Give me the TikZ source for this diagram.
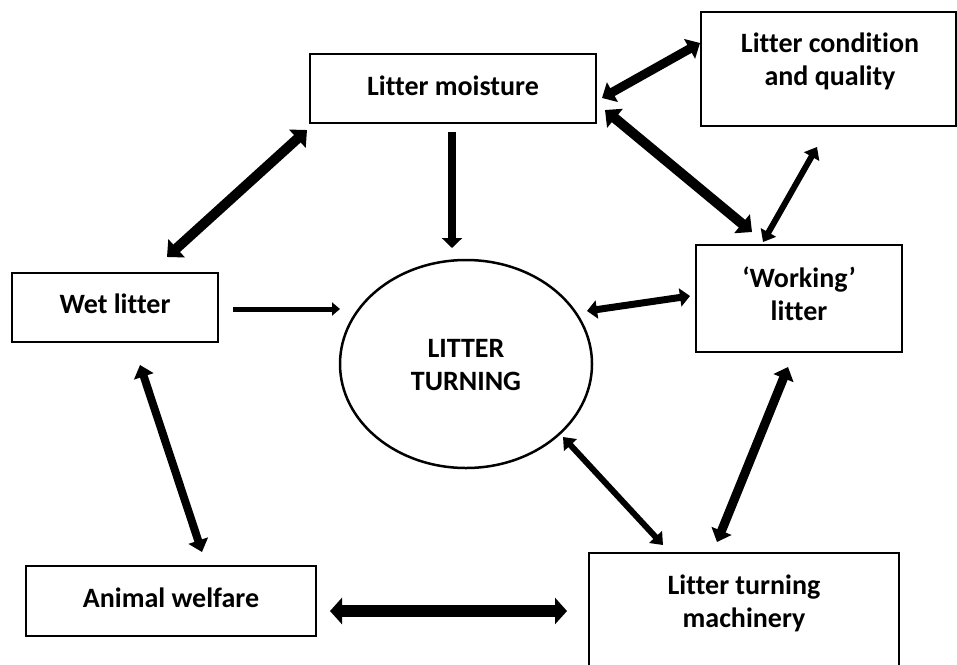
\documentclass[tikz,border=0pt]{standalone}
\usepackage{fontspec}
\setmainfont{Carlito}[Ligatures=NoCommon]
\usetikzlibrary{arrows.meta,shapes.geometric}
\tikzset{
  box/.style={draw, line width=1.5pt, rectangle, inner sep=0pt},
  txt/.style={font=\fontsize{28}{33}\selectfont\bfseries, align=center, inner sep=0pt},
}
\newcommand{\hd}[2]{Triangle[length=#1pt, width=#2pt]}
\begin{document}
\begin{tikzpicture}[x=1pt,y=-1pt]
\useasboundingbox (0,0) rectangle (957,664);
% boxes
\node[box, minimum width=286pt, minimum height=69pt] (moist) at (453,88.5) {};
\node[txt] (moistT) at (453,86) {Litter moisture};
\node[box, minimum width=255pt, minimum height=114pt] (cond) at (828.5,69) {};
\node[txt] (condT) at (830,61) {Litter condition\\and quality};
\node[box, minimum width=206pt, minimum height=69pt] (wet) at (115,307.5) {};
\node[txt] (wetT) at (115,304) {Wet litter};
\node[box, minimum width=206pt, minimum height=107pt] (work) at (799,298.5) {};
\node[txt] (workT) at (799,294) {‘Working’\\litter};
\node[box, minimum width=290pt, minimum height=70pt] (animal) at (171,601) {};
\node[txt] (animalT) at (171,598) {Animal welfare};
\node[box, minimum width=310pt, minimum height=120pt] (mach) at (744,613) {};
\node[txt] (machT) at (744,603) {Litter turning\\machinery};
\node[draw, line width=2.5pt, ellipse, minimum width=252pt, minimum height=208pt, inner sep=0pt] (turn) at (466,364) {};
\node[txt] (turnT) at (466,365) {LITTER\\TURNING};
% connector end points
\coordinate (m1) at (452,132);  \coordinate (t1) at (452,248);
\coordinate (w2) at (233,309);  \coordinate (t2) at (340,309);
\coordinate (w3) at (167,257);  \coordinate (m3) at (307,130);
\coordinate (w4) at (140,365);  \coordinate (a4) at (202,552);
\coordinate (a5) at (330,611);  \coordinate (c5) at (567,611);
\coordinate (t6) at (563,437);  \coordinate (c6) at (663,545);
\coordinate (c7) at (717,542);  \coordinate (k7) at (788,367);
\coordinate (t8) at (587,311);  \coordinate (k8) at (690,296);
\coordinate (k9) at (763,242);  \coordinate (q9) at (817,147);
\coordinate (m10) at (605,110); \coordinate (k10) at (752,232);
\coordinate (m11) at (602,98);  \coordinate (q11) at (700,43);
% connectors
\draw[line width=8pt, -{\hd{10}{20}}] (m1) -- (t1);
\draw[line width=5pt, -{\hd{8}{13}}] (w2) -- (t2);
\draw[line width=10pt, {\hd{13}{24}}-{\hd{13}{24}}] (w3) -- (m3);
\draw[line width=8pt, {\hd{12}{20}}-{\hd{12}{20}}] (w4) -- (a4);
\draw[line width=12pt, {\hd{12}{26}}-{\hd{12}{26}}] (a5) -- (c5);
\draw[line width=6pt, {\hd{11}{17}}-{\hd{11}{17}}] (t6) -- (c6);
\draw[line width=9pt, {\hd{12}{21}}-{\hd{12}{21}}] (c7) -- (k7);
\draw[line width=7pt, {\hd{10}{18}}-{\hd{10}{18}}] (t8) -- (k8);
\draw[line width=6pt, {\hd{11}{17}}-{\hd{11}{17}}] (k9) -- (q9);
\draw[line width=10pt, {\hd{13}{24}}-{\hd{13}{24}}] (m10) -- (k10);
\draw[line width=9pt, {\hd{12}{22}}-{\hd{12}{22}}] (m11) -- (q11);
\end{tikzpicture}
\end{document}
